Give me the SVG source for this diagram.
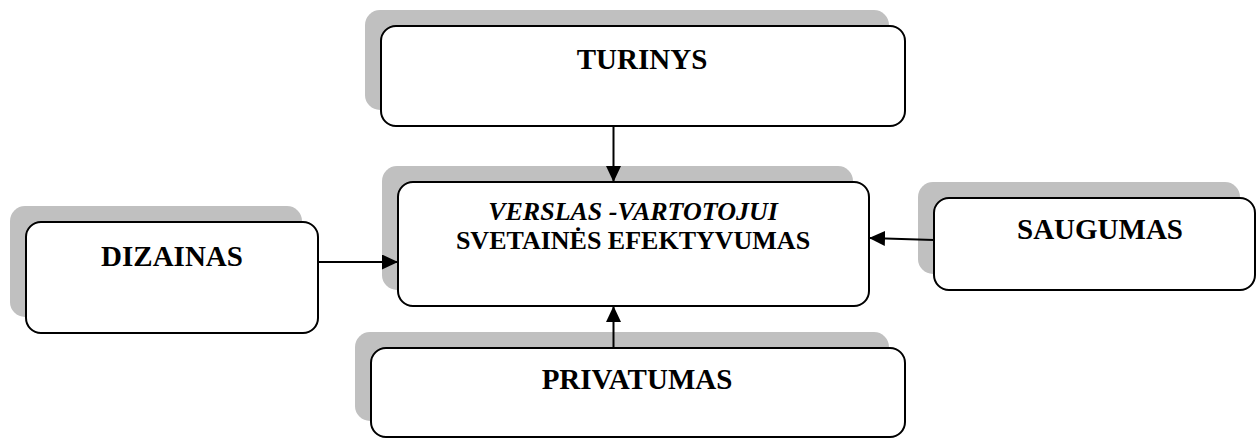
<svg xmlns="http://www.w3.org/2000/svg" width="1257" height="439" viewBox="0 0 1257 439">
  <style>
    .shadow { fill: #c0c0c0; stroke: none; }
    .box { fill: #ffffff; stroke: #000000; stroke-width: 2; }
    .label { font-family: "Liberation Serif", "Times New Roman", serif; font-weight: bold; font-size: 29px; text-anchor: middle; fill: #000000; }
    .main { font-size: 26px; }
    .wire { stroke: #000000; stroke-width: 2; fill: none; marker-end: url(#arrow); }
  </style>
  <defs>
    <marker id="arrow" markerUnits="userSpaceOnUse" markerWidth="16" markerHeight="15" refX="16" refY="7.5" orient="auto">
      <path d="M0,0 L16,7.5 L0,15 Z" fill="#000000"/>
    </marker>
  </defs>

  <rect width="1257" height="439" fill="#ffffff"/>

  <g id="turinys">
    <rect class="shadow" x="365" y="10" width="524" height="100" rx="15"/>
    <rect class="box" x="381" y="26" width="524" height="100" rx="15"/>
    <text class="label" x="642" y="69">TURINYS</text>
  </g>

  <g id="efektyvumas">
    <rect class="shadow" x="382" y="166" width="471" height="124" rx="15"/>
    <rect class="box" x="398" y="182" width="471" height="124" rx="15"/>
    <text class="label main" x="633" y="220" font-style="italic">VERSLAS -VARTOTOJUI</text>
    <text class="label main" x="633" y="249">SVETAINĖS EFEKTYVUMAS</text>
  </g>

  <g id="dizainas">
    <rect class="shadow" x="10" y="206" width="292" height="111" rx="15"/>
    <rect class="box" x="26" y="222" width="292" height="111" rx="15"/>
    <text class="label" x="172" y="266">DIZAINAS</text>
  </g>

  <g id="saugumas">
    <rect class="shadow" x="918" y="182" width="322" height="92" rx="15"/>
    <rect class="box" x="934" y="198" width="321" height="92" rx="15"/>
    <text class="label" x="1100" y="239">SAUGUMAS</text>
  </g>

  <g id="privatumas">
    <rect class="shadow" x="355" y="332" width="534" height="89" rx="15"/>
    <rect class="box" x="371" y="348" width="534" height="89" rx="15"/>
    <text class="label" x="637" y="389">PRIVATUMAS</text>
  </g>

  <g id="connectors">
    <line class="wire" x1="613.5" y1="127" x2="613.5" y2="182"/>
    <line class="wire" x1="613.5" y1="347" x2="613.5" y2="306"/>
    <line class="wire" x1="318" y1="262" x2="398" y2="262"/>
    <line class="wire" x1="934" y1="240" x2="869" y2="238"/>
  </g>
</svg>
